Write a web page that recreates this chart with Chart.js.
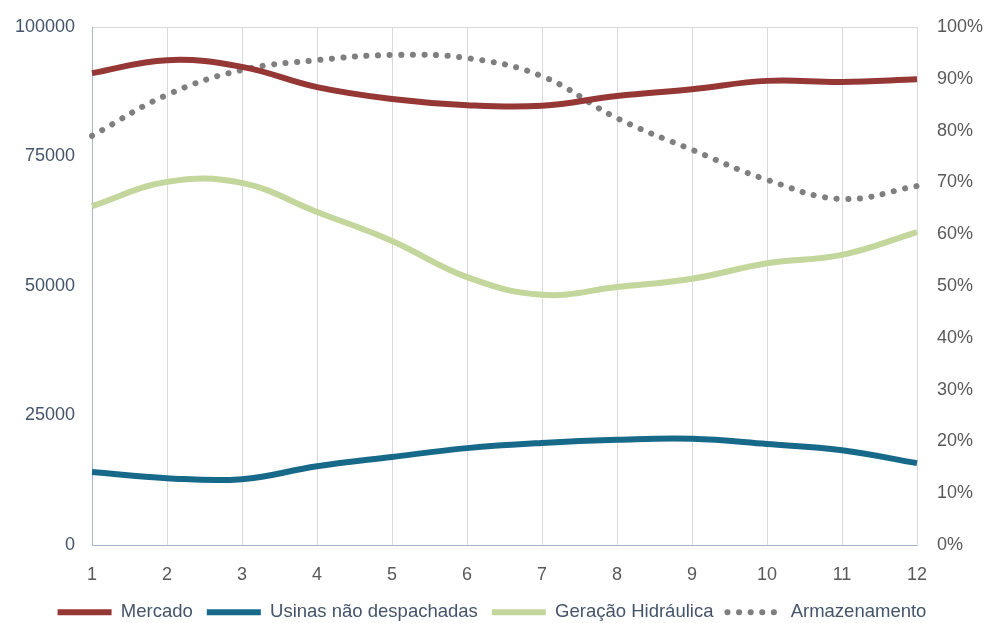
<!DOCTYPE html>
<html>
<head>
<meta charset="utf-8">
<script src="https://cdn.jsdelivr.net/npm/chart.js@4.4.1/dist/chart.umd.min.js"></script>
<style>
  html, body { margin: 0; padding: 0; background: #ffffff; }
  #wrap { width: 984px; height: 623px; }
</style>
</head>
<body>
<div id="wrap"><canvas id="grafico" width="984" height="623"></canvas></div>
<script>
  const meses = ['1', '2', '3', '4', '5', '6', '7', '8', '9', '10', '11', '12'];
  const mercado = [91100, 93600, 92300, 88400, 86100, 84900, 84800, 86700, 88000, 89600, 89400, 89900];
  const usinas = [14100, 12900, 12700, 15200, 17000, 18700, 19700, 20300, 20500, 19500, 18300, 15800];
  const geracao = [65400, 70100, 69900, 64300, 58700, 51700, 48300, 49800, 51400, 54400, 56000, 60400];
  const armazenamento = [79.0, 86.9, 91.7, 93.6, 94.6, 94.0, 90.5, 82.4, 76.3, 70.5, 66.8, 69.3]; // %

  const fonte = 'Liberation Sans, Arial, sans-serif';

  function serie(label, data, cor, eixo) {
    return {
      label: label,
      data: data,
      borderColor: cor,
      backgroundColor: cor,
      borderWidth: 6,
      tension: 0.4,
      pointRadius: 0,
      pointHoverRadius: 0,
      fill: false,
      yAxisID: eixo
    };
  }

  const armaz = serie('Armazenamento', armazenamento, '#7f7f7f', 'y2');
  armaz.borderDash = [0.1, 11.5];
  armaz.borderCapStyle = 'round';

  // largura fixa dos eixos y, sem folga extra em cima
  function fixaEixo(largura) {
    return s => {
      s.width = largura;
      s.paddingTop = 0;
      s.paddingBottom = 0;
    };
  }

  new Chart(document.getElementById('grafico'), {
    type: 'line',
    data: {
      labels: meses,
      datasets: [
        serie('Mercado', mercado, '#953735', 'y'),
        serie('Usinas não despachadas', usinas, '#17698a', 'y'),
        serie('Geração Hidráulica', geracao, '#c3d69b', 'y'),
        armaz
      ]
    },
    options: {
      responsive: false,
      animation: false,
      events: [],
      layout: { padding: { top: 27, left: 0, right: 0, bottom: 0 } },
      plugins: {
        tooltip: { enabled: false },
        legend: {
          position: 'bottom',
          maxHeight: 34,
          labels: {
            usePointStyle: true,
            pointStyleWidth: 54,
            boxHeight: 6,
            padding: 14,
            color: '#44546a',
            font: { family: fonte, size: 18.5 },
            generateLabels: chart => chart.data.datasets.map((ds, i) => ({
              text: ds.label,
              fillStyle: ds.borderColor,
              strokeStyle: ds.borderColor,
              fontColor: '#44546a',
              lineWidth: 6,
              lineDash: ds.borderDash || [],
              lineCap: ds.borderCapStyle || 'butt',
              pointStyle: 'line',
              datasetIndex: i,
              hidden: false
            }))
          }
        }
      },
      scales: {
        x: {
          offset: false,
          grid: { color: '#d9d9d9', drawTicks: false },
          border: { color: '#a6b5cc' },
          ticks: { color: '#595959', padding: 19, font: { family: fonte, size: 18 }, maxRotation: 0 },
          afterFit: s => { s.height = 44; }
        },
        y: {
          position: 'left',
          min: 0,
          max: 100000,
          grid: {
            drawTicks: false,
            color: c => c.tick && c.tick.value === 100000 ? '#d9d9d9' : 'rgba(0,0,0,0)'
          },
          border: { color: '#a6b5cc' },
          ticks: { stepSize: 25000, color: '#44546a', padding: 17, font: { family: fonte, size: 18 }, callback: v => String(v) },
          afterFit: fixaEixo(92)
        },
        y2: {
          position: 'right',
          min: 0,
          max: 100,
          grid: { display: false, drawTicks: false },
          border: { display: true, color: '#d9d9d9' },
          ticks: { stepSize: 10, color: '#595959', padding: 20, font: { family: fonte, size: 18 }, callback: v => v + '%' },
          afterFit: fixaEixo(67)
        }
      }
    }
  });
</script>
</body>
</html>
